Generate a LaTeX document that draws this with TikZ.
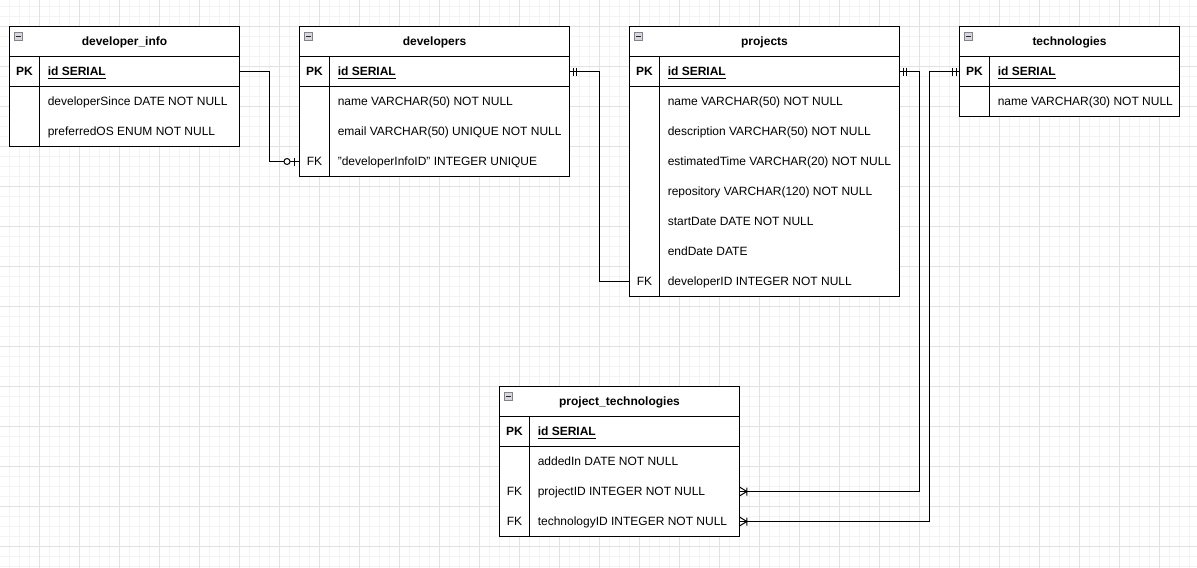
\documentclass[tikz,border=0pt]{standalone}
\usepackage{fontspec}
\setmainfont{Liberation Sans}
\usetikzlibrary{calc}
\definecolor{gminorc}{RGB}{244,244,244}
\definecolor{gmajorc}{RGB}{226,226,226}
\definecolor{iconfill}{RGB}{215,215,222}
\definecolor{iconedge}{RGB}{130,130,140}
\newcommand{\pkfield}[1]{\textbf{\underline{#1}}}
\tikzset{
  ln/.style={line width=0.75pt, draw=black},
  gminor/.style={line width=0.75pt, draw=gminorc},
  gmajor/.style={line width=0.75pt, draw=gmajorc},
  tbl/.style={draw=black, fill=white, line width=0.75pt, anchor=north west, inner sep=0pt, outer sep=0pt, rectangle},
  hdr/.style={inner sep=0pt, text height=6.5pt, text depth=0pt, font=\fontsize{9pt}{11pt}\selectfont\bfseries},
  fld/.style={anchor=west, inner sep=0pt, text height=6.5pt, text depth=0pt, font=\fontsize{9pt}{11pt}\selectfont},
  key/.style={inner sep=0pt, text height=6.5pt, text depth=0pt, font=\fontsize{9pt}{11pt}\selectfont},
  keyb/.style={key, font=\fontsize{9pt}{11pt}\selectfont\bfseries},
  collapse/.pic={
    \draw[draw=iconedge, fill=iconfill, line width=0.75pt] (4.5,5.5) rectangle (13,14);
    \draw[line width=0.9pt, draw=black!85] (6.5,9.75) -- (11,9.75);
  },
  mandone/.pic={\draw[ln] (3.5,-4) -- (3.5,4) (7.3,-4) -- (7.3,4);},
  zeroone/.pic={\draw[ln] (4.7,-4) -- (4.7,4); \draw[ln, fill=white] (12.5,0) circle[radius=3];},
  crow/.pic={\draw[ln] (0,-4.5) -- (7.3,0) -- (0,4.5) (7.3,-4) -- (7.3,4);}
}
\begin{document}
\begin{tikzpicture}[x=0.75pt,y=-0.75pt]
\useasboundingbox (0,0) rectangle (1197,568);
\fill[white] (0,0) rectangle (1197,568);
% grid
\foreach \i in {0,...,120} \draw[gminor] ({-0.5+10*\i},0) -- ({-0.5+10*\i},568);
\foreach \j in {0,...,56} \draw[gminor] (0,{6.5+10*\j}) -- (1197,{6.5+10*\j});
\foreach \i in {0,...,30} \draw[gmajor] ({-0.5+40*\i},0) -- ({-0.5+40*\i},568);
\foreach \j in {0,...,14} \draw[gmajor] (0,{26.5+40*\j}) -- (1197,{26.5+40*\j});

% ---------- developer_info
\node[tbl, minimum width=230*0.75pt, minimum height=120*0.75pt] (di) at (9.5,26.5) {};
\draw[ln] ($(di.north west)+(0,30)$) -- ($(di.north east)+(0,30)$)
          ($(di.north west)+(0,60)$) -- ($(di.north east)+(0,60)$)
          ($(di.north west)+(30,30)$) -- ($(di.south west)+(30,0)$);
\node[hdr] (diH) at ($(di.north)+(0,15)$) {developer\_info};
\pic at (di.north west) {collapse};
\foreach \t [count=\i] in {{\pkfield{id SERIAL}}, developerSince DATE NOT NULL, preferredOS ENUM NOT NULL}
  \node[fld] (diF\i) at ($(di.north west)+(38,{15+30*\i})$) {\t};
\node[keyb] (diK1) at ($(di.north west)+(15,45)$) {PK};

% ---------- developers
\node[tbl, minimum width=270*0.75pt, minimum height=150*0.75pt] (dv) at (299.5,26.5) {};
\draw[ln] ($(dv.north west)+(0,30)$) -- ($(dv.north east)+(0,30)$)
          ($(dv.north west)+(0,60)$) -- ($(dv.north east)+(0,60)$)
          ($(dv.north west)+(30,30)$) -- ($(dv.south west)+(30,0)$);
\node[hdr] (dvH) at ($(dv.north)+(0,15)$) {developers};
\pic at (dv.north west) {collapse};
\foreach \t [count=\i] in {{\pkfield{id SERIAL}}, name VARCHAR(50) NOT NULL, email VARCHAR(50) UNIQUE NOT NULL, {"developerInfoID" INTEGER UNIQUE}}
  \node[fld] (dvF\i) at ($(dv.north west)+(38,{15+30*\i})$) {\t};
\node[keyb] (dvK1) at ($(dv.north west)+(15,45)$) {PK};
\node[key] (dvK4) at ($(dv.north west)+(15,135)$) {FK};

% ---------- projects
\node[tbl, minimum width=270*0.75pt, minimum height=270*0.75pt] (pj) at (629.5,26.5) {};
\draw[ln] ($(pj.north west)+(0,30)$) -- ($(pj.north east)+(0,30)$)
          ($(pj.north west)+(0,60)$) -- ($(pj.north east)+(0,60)$)
          ($(pj.north west)+(30,30)$) -- ($(pj.south west)+(30,0)$);
\node[hdr] (pjH) at ($(pj.north)+(0,15)$) {projects};
\pic at (pj.north west) {collapse};
\foreach \t [count=\i] in {{\pkfield{id SERIAL}}, name VARCHAR(50) NOT NULL, description VARCHAR(50) NOT NULL, estimatedTime VARCHAR(20) NOT NULL, repository VARCHAR(120) NOT NULL, startDate DATE NOT NULL, endDate DATE, developerID INTEGER NOT NULL}
  \node[fld] (pjF\i) at ($(pj.north west)+(38,{15+30*\i})$) {\t};
\node[keyb] (pjK1) at ($(pj.north west)+(15,45)$) {PK};
\node[key] (pjK8) at ($(pj.north west)+(15,255)$) {FK};

% ---------- technologies
\node[tbl, minimum width=220*0.75pt, minimum height=90*0.75pt] (te) at (959.5,26.5) {};
\draw[ln] ($(te.north west)+(0,30)$) -- ($(te.north east)+(0,30)$)
          ($(te.north west)+(0,60)$) -- ($(te.north east)+(0,60)$)
          ($(te.north west)+(30,30)$) -- ($(te.south west)+(30,0)$);
\node[hdr] (teH) at ($(te.north)+(0,15)$) {technologies};
\pic at (te.north west) {collapse};
\foreach \t [count=\i] in {{\pkfield{id SERIAL}}, name VARCHAR(30) NOT NULL}
  \node[fld] (teF\i) at ($(te.north west)+(38,{15+30*\i})$) {\t};
\node[keyb] (teK1) at ($(te.north west)+(15,45)$) {PK};

% ---------- project_technologies
\node[tbl, minimum width=240*0.75pt, minimum height=150*0.75pt] (pt) at (499.5,386.5) {};
\draw[ln] ($(pt.north west)+(0,30)$) -- ($(pt.north east)+(0,30)$)
          ($(pt.north west)+(0,60)$) -- ($(pt.north east)+(0,60)$)
          ($(pt.north west)+(30,30)$) -- ($(pt.south west)+(30,0)$);
\node[hdr] (ptH) at ($(pt.north)+(0,15)$) {project\_technologies};
\pic at (pt.north west) {collapse};
\foreach \t [count=\i] in {{\pkfield{id SERIAL}}, addedIn DATE NOT NULL, projectID INTEGER NOT NULL, technologyID INTEGER NOT NULL}
  \node[fld] (ptF\i) at ($(pt.north west)+(38,{15+30*\i})$) {\t};
\node[keyb] (ptK1) at ($(pt.north west)+(15,45)$) {PK};
\node[key] (ptK3) at ($(pt.north west)+(15,105)$) {FK};
\node[key] (ptK4) at ($(pt.north west)+(15,135)$) {FK};

% ---------- connectors
\draw[ln] (di.east |- diF1) -- ++(30,0) |- (dv.west |- dvF4);
\pic[rotate=180] at (dv.west |- dvF4) {zeroone};

\draw[ln] (dv.east |- dvF1) -- ++(30,0) |- (pj.west |- pjF8);
\pic at (dv.east |- dvF1) {mandone};

\draw[ln] (pj.east |- pjF1) -- ++(20,0) |- (pt.east |- ptF3);
\pic at (pj.east |- pjF1) {mandone};
\pic at (pt.east |- ptF3) {crow};

\draw[ln] (te.west |- teF1) -- ++(-30,0) |- (pt.east |- ptF4);
\pic[rotate=180] at (te.west |- teF1) {mandone};
\pic at (pt.east |- ptF4) {crow};
\end{tikzpicture}
\end{document}
